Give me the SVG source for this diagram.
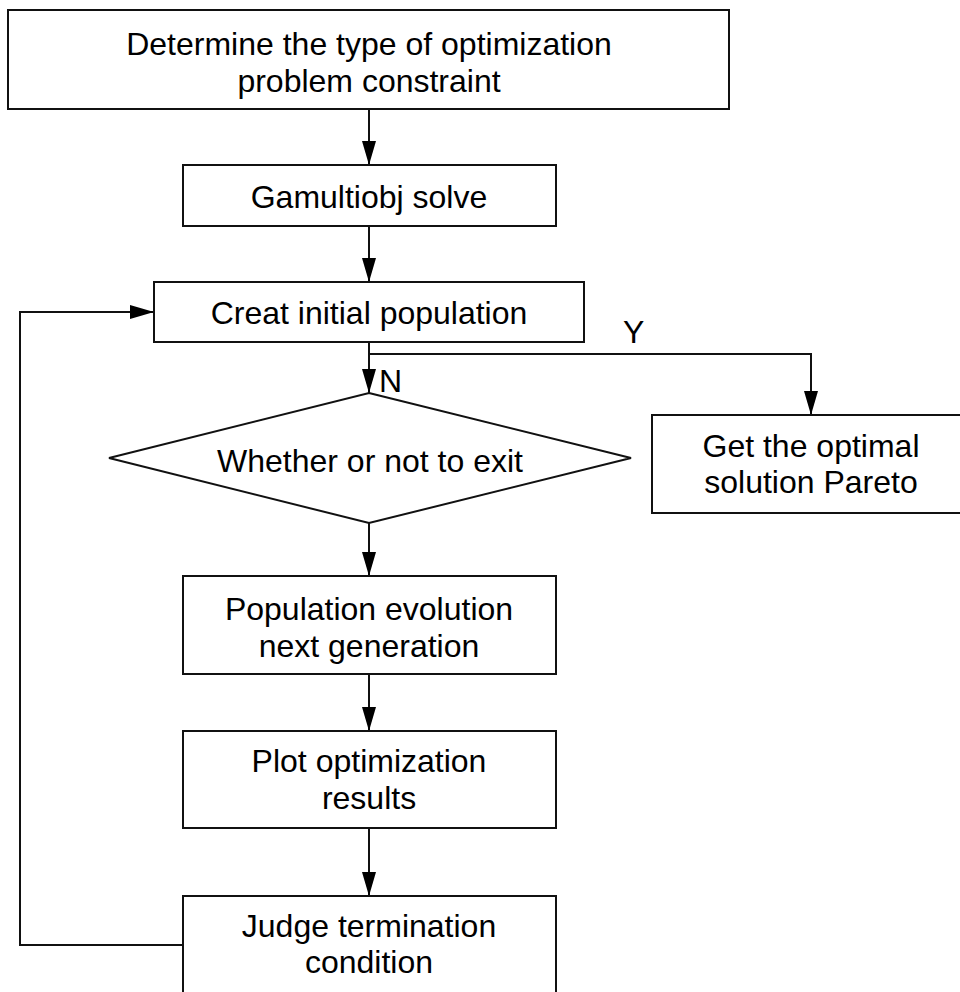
<svg xmlns="http://www.w3.org/2000/svg" width="960" height="992" viewBox="0 0 960 992">
<style>
.box{fill:#fff;stroke:#111;stroke-width:2}
.t{font-family:"Liberation Sans",Arial,sans-serif;font-size:32px;fill:#000;text-anchor:middle}
.lbl{font-family:"Liberation Sans",Arial,sans-serif;font-size:32px;fill:#000}
.ln{fill:none;stroke:#111;stroke-width:2}
</style>
<defs>
<marker id="ah" markerUnits="userSpaceOnUse" markerWidth="24" markerHeight="14" refX="24" refY="7" orient="auto">
<path d="M0,0 L24,7 L0,14 z" fill="#000"/>
</marker>
</defs>
<rect width="960" height="992" fill="#fff"/>
<g id="connectors">
<path class="ln" d="M369,109 V165" marker-end="url(#ah)"/>
<path class="ln" d="M369,226 V282" marker-end="url(#ah)"/>
<path class="ln" d="M369,342 V393" marker-end="url(#ah)"/>
<path class="ln" d="M369,354 H811 V415" marker-end="url(#ah)"/>
<path class="ln" d="M369,523 V576" marker-end="url(#ah)"/>
<path class="ln" d="M369,674 V731" marker-end="url(#ah)"/>
<path class="ln" d="M369,828 V896" marker-end="url(#ah)"/>
<path class="ln" d="M183,945 H20 V312 H154" marker-end="url(#ah)"/>
<text class="lbl" x="623" y="343">Y</text>
<text class="lbl" x="379" y="392">N</text>
</g>
<g id="n1">
<rect class="box" x="8" y="10" width="721" height="99"/>
<text class="t" x="369" y="55">Determine the type of optimization</text>
<text class="t" x="369" y="92">problem constraint</text>
</g>
<g id="n2">
<rect class="box" x="183" y="165" width="373" height="61"/>
<text class="t" x="369" y="208">Gamultiobj solve</text>
</g>
<g id="n3">
<rect class="box" x="154" y="282" width="430" height="60"/>
<text class="t" x="369" y="324">Creat initial population</text>
</g>
<g id="n4">
<polygon class="box" points="369,393 631,458 369,523 109,458"/>
<text class="t" x="370" y="472">Whether or not to exit</text>
</g>
<g id="n5">
<rect class="box" x="652" y="415" width="320" height="98"/>
<text class="t" x="811" y="457">Get the optimal</text>
<text class="t" x="811" y="493">solution Pareto</text>
</g>
<g id="n6">
<rect class="box" x="183" y="576" width="373" height="98"/>
<text class="t" x="369" y="620">Population evolution</text>
<text class="t" x="369" y="657">next generation</text>
</g>
<g id="n7">
<rect class="box" x="183" y="731" width="373" height="97"/>
<text class="t" x="369" y="772">Plot optimization</text>
<text class="t" x="369" y="809">results</text>
</g>
<g id="n8">
<rect class="box" x="183" y="896" width="373" height="110"/>
<text class="t" x="369" y="937">Judge termination</text>
<text class="t" x="369" y="973">condition</text>
</g>
</svg>
